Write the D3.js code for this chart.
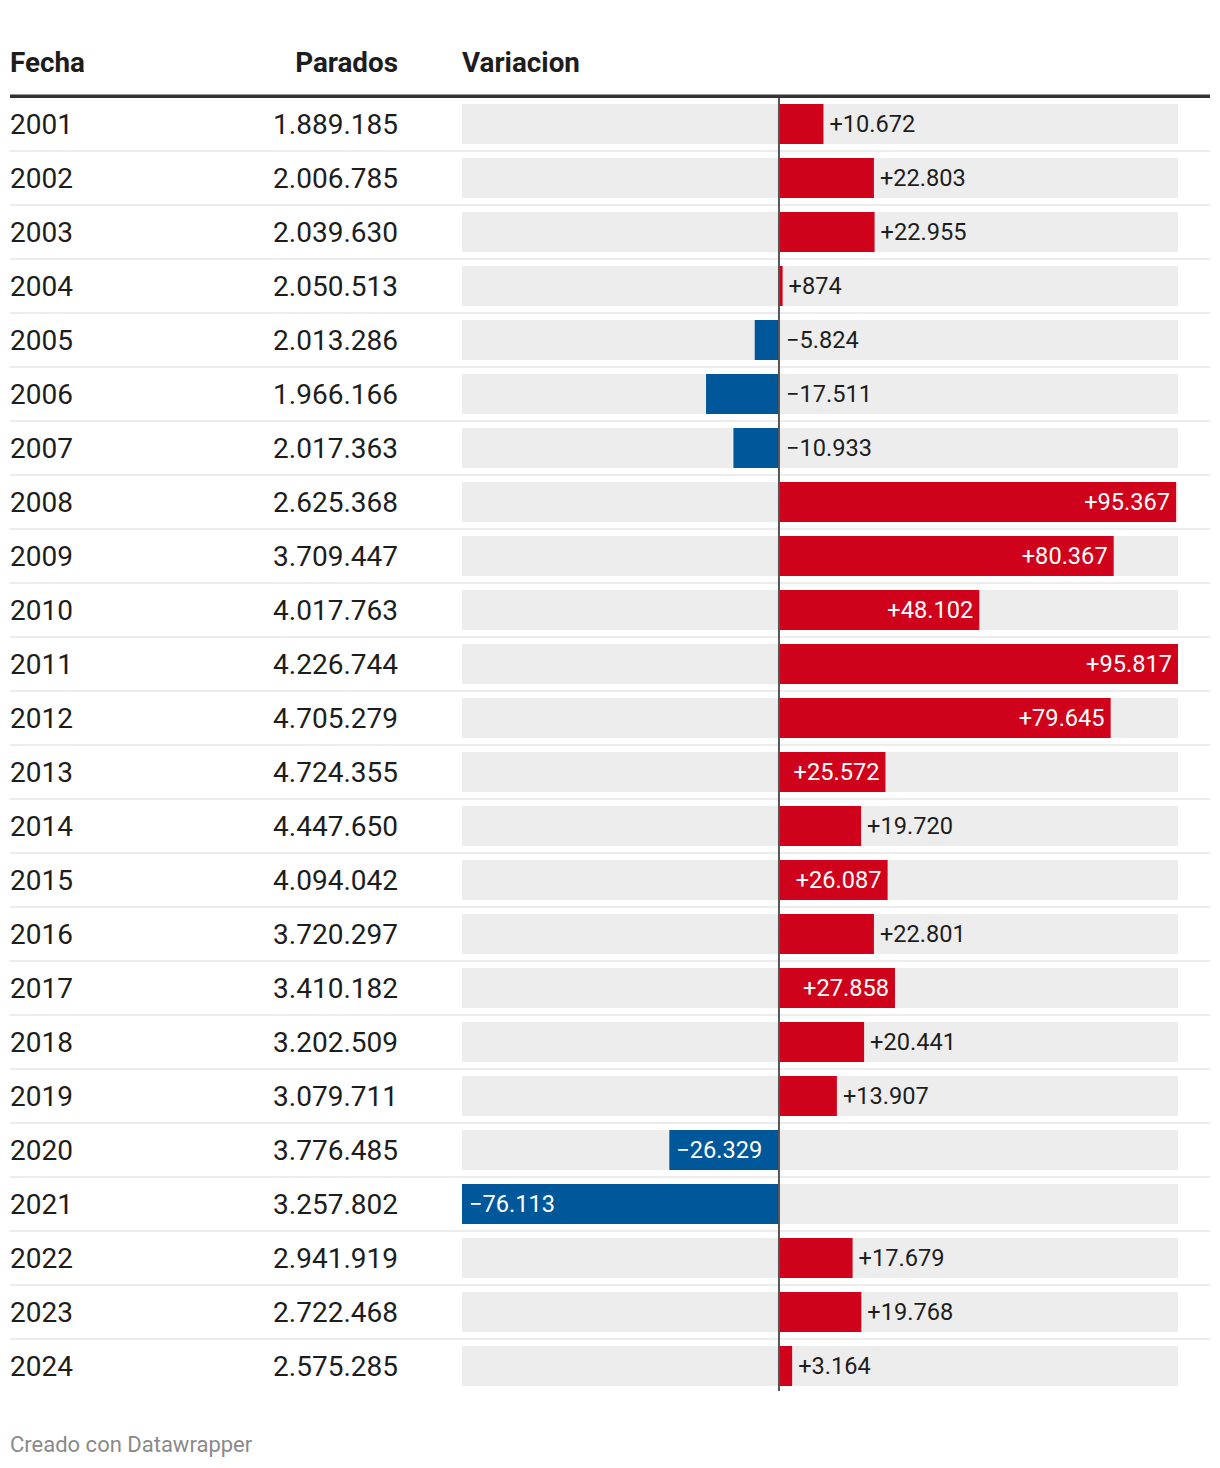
<!DOCTYPE html>
<html>
<head>
<meta charset="utf-8">
<script src="https://cdn.jsdelivr.net/npm/d3@7"></script>
<style>
  html, body { margin: 0; padding: 0; background: #fff; }
  svg { display: block; font-family: Roboto, "Noto Sans", sans-serif; }
</style>
</head>
<body>
<svg id="chart" width="1220" height="1468"></svg>
<script>
const years = ["2001","2002","2003","2004","2005","2006","2007","2008","2009","2010","2011","2012","2013","2014","2015","2016","2017","2018","2019","2020","2021","2022","2023","2024"];
const parados = [1889185,2006785,2039630,2050513,2013286,1966166,2017363,2625368,3709447,4017763,4226744,4705279,4724355,4447650,4094042,3720297,3410182,3202509,3079711,3776485,3257802,2941919,2722468,2575285];
const variacion = [10672,22803,22955,874,-5824,-17511,-10933,95367,80367,48102,95817,79645,25572,19720,26087,22801,27858,20441,13907,-26329,-76113,17679,19768,3164];
const headers = ["Fecha","Parados","Variacion"];
const footer = "Creado con Datawrapper";

const RED = "#d0021b", BLUE = "#00579a", BG = "#ededed", TXT = "#1d1d1d";
const svg = d3.select("#chart");

const fmtInt = n => Math.abs(n).toString().replace(/\B(?=(\d{3})+(?!\d))/g, ".");
const fmtVar = n => (n < 0 ? "\u2212" : "+") + fmtInt(n);

const y = d3.scaleBand().domain(years).range([97, 97 + 54 * years.length]).paddingInner(0).paddingOuter(0);
const x = d3.scaleLinear().domain([d3.min(variacion), d3.max(variacion)]).range([462, 1178]);
const x0 = x(0);
const barH = 40;

// headers
const hdr = svg.append("g").attr("font-weight", 700).attr("font-size", 27.8).attr("fill", TXT);
hdr.append("text").attr("x", 10).attr("y", 72).text(headers[0]);
hdr.append("text").attr("x", 398).attr("y", 72).attr("text-anchor", "end").text(headers[1]);
hdr.append("text").attr("x", 462).attr("y", 72).text(headers[2]);

svg.append("rect").attr("x", 10).attr("y", 94.5).attr("width", 1200).attr("height", 3.5).attr("fill", "#333");

const rows = svg.append("g").selectAll("g").data(years.map((yr, i) => ({yr, p: parados[i], v: variacion[i], i})))
  .join("g").attr("transform", d => `translate(0,${y(d.yr)})`);

// separators
rows.filter(d => d.i < years.length - 1).append("rect")
  .attr("x", 10).attr("y", 53).attr("width", 1200).attr("height", 2).attr("fill", "#ececec");

rows.append("text").attr("x", 10).attr("y", 37).attr("font-size", 28).attr("fill", TXT).text(d => d.yr);
rows.append("text").attr("x", 398).attr("y", 37).attr("font-size", 28).attr("fill", TXT)
  .attr("text-anchor", "end").text(d => fmtInt(d.p));

rows.append("rect").attr("x", x.range()[0]).attr("y", 7).attr("width", x.range()[1] - x.range()[0])
  .attr("height", barH).attr("fill", BG);
rows.append("rect")
  .attr("x", d => Math.min(x(d.v), x0)).attr("y", 7)
  .attr("width", d => Math.max(Math.abs(x(d.v) - x0), 1.5))
  .attr("height", barH).attr("fill", d => d.v < 0 ? BLUE : RED);

rows.append("text").attr("y", 34.5).attr("font-size", 23.6)
  .each(function(d) {
    const w = Math.abs(x(d.v) - x0);
    const inside = w > 100;
    const t = d3.select(this).text(fmtVar(d.v));
    if (inside) {
      t.attr("fill", "#fff");
      if (d.v >= 0) t.attr("x", x(d.v) - 6).attr("text-anchor", "end");
      else t.attr("x", x(d.v) + 7).attr("text-anchor", "start");
    } else {
      t.attr("fill", TXT).attr("text-anchor", "start");
      if (d.v >= 0) t.attr("x", x(d.v) + 6);
      else t.attr("x", x0 + 7);
    }
  });

// zero line
svg.append("line").attr("x1", x0).attr("x2", x0).attr("y1", 98).attr("y2", 1391)
  .attr("stroke", "#555").attr("stroke-width", 2);

svg.append("text").attr("x", 10).attr("y", 1452).attr("font-size", 22).attr("fill", "#8a8a8a").text(footer);
</script>
</body>
</html>
